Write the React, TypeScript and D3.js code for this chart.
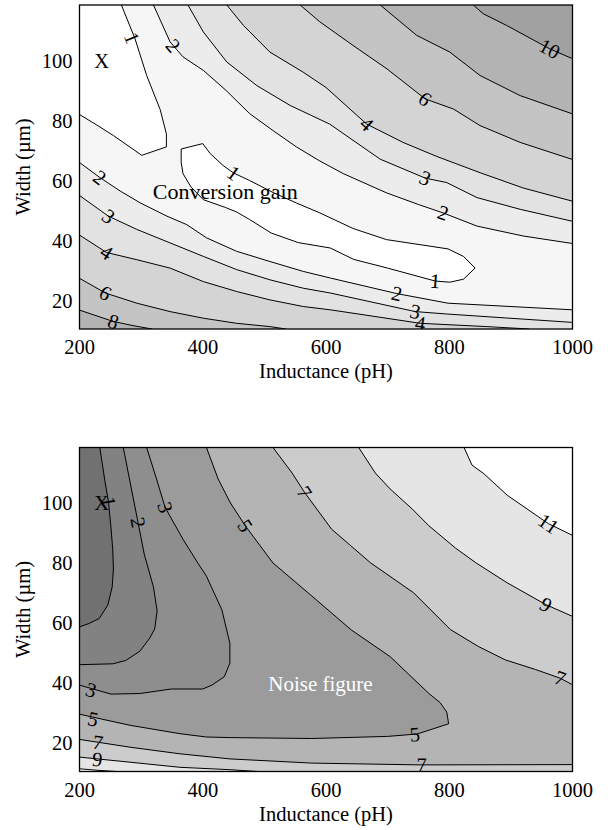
import React from "react";
import * as d3 from "d3";

type Pt = [number, number];

// ---------- axes ----------
const xDomain: Pt = [200, 1000];
const yDomain: Pt = [10.5, 118.5];
const xTicks = [200, 400, 600, 800, 1000];
const yTicks = [20, 40, 60, 80, 100];
const xTitle = "Inductance (pH)";
const yTitle = "Width (µm)";

// ---------- Conversion gain contour lines: [Inductance pH, Width µm] ----------
const cgIslandA: Pt[] = [[268, 118.5], [290, 107.3], [309, 95], [331, 83.6], [341, 75.5], [341, 71.2], [301, 68.4], [255, 75], [228, 78.5], [200, 82]];
const cgIslandB: Pt[] = [[365, 70.5], [400, 72.3], [412, 69], [433, 65], [450, 62.5], [476, 60], [514, 56], [552, 52.5], [590, 49.2], [644, 44], [698, 40.3], [798, 37.2], [823, 34.7], [842, 30.8], [823, 27.1], [801, 26.1], [777, 26.5], [700, 30.8], [645, 33.7], [607, 37.5], [555, 39.3], [511, 42.5], [476, 47], [455, 49.5], [437, 51], [401, 53.6], [381, 57.8], [368, 62.3], [365, 66], [365, 70.5]];
const cgUp2: Pt[] = [[320, 118.5], [347, 106.2], [368, 101.2], [401, 96.7], [438, 90], [476, 82.3], [515, 76.5], [552, 71.2], [590, 66.5], [628, 62.3], [698, 55.9], [750, 52], [790, 49.2], [845, 44.8], [920, 41.5], [1000, 39]];
const cgUp3: Pt[] = [[376, 118.5], [401, 109.5], [439, 99.5], [488, 91.6], [542, 85], [606, 78.8], [688, 67.1], [761, 60.8], [796, 59.3], [845, 54.3], [915, 50.4], [1000, 46.4]];
const cgUp4: Pt[] = [[439, 118.5], [466, 111.7], [509, 102.8], [563, 96.1], [600, 91], [666, 78.8], [725, 72.7], [780, 68], [850, 62.6], [920, 57.5], [1000, 53.1]];
const cgUp6: Pt[] = [[558, 118.5], [590, 112.9], [644, 105], [699, 97.2], [761, 87.2], [807, 83.8], [850, 78.3], [915, 72.7], [1000, 67]];
const cgUp8: Pt[] = [[688, 118.5], [747, 108.4], [801, 102.8], [850, 95], [915, 88.3], [1000, 82.2]];
const cgUp10: Pt[] = [[839, 118.5], [855, 115.6], [893, 111.7], [963, 103.9], [1000, 100.6]];
const cgLo2: Pt[] = [[200, 66], [233, 61], [266, 56.5], [298, 52.6], [342, 48.1], [374, 45.3], [406, 40.9], [455, 36.4], [509, 33], [563, 29.7], [607, 27.5], [715, 22.3], [798, 19.1], [1000, 16.9]];
const cgLo3: Pt[] = [[200, 55], [247, 48.1], [293, 43.7], [347, 39.2], [401, 34.7], [455, 30.3], [509, 26.9], [563, 24.1], [607, 22.5], [745, 16.3], [796, 15.5], [1000, 12.7]];
const cgLo4: Pt[] = [[200, 41.8], [244, 36], [293, 33.6], [347, 30.8], [401, 26.3], [455, 23], [509, 20.2], [563, 18], [607, 16.9], [753, 12.4], [861, 11.3], [930, 10.5]];
const cgLo6: Pt[] = [[200, 27.4], [242, 22.5], [293, 19.1], [347, 16.3], [401, 14.1], [455, 12.4], [509, 11.3], [535, 10.5]];
const cgLo8: Pt[] = [[200, 16.8], [255, 13], [290, 11.5], [318, 10.5]];
// fill colours, highest band first
const cgBandColors = ["#a1a1a1", "#b3b3b3", "#c4c4c4", "#d4d4d4", "#e2e2e2", "#ececec", "#f6f6f6", "#ffffff"];
const cgLabels: { t: string; line: Pt[]; at: Pt }[] = [
  { t: "1", line: cgIslandA, at: [285, 107.5] },
  { t: "2", line: cgUp2, at: [352, 105] },
  { t: "10", line: cgUp10, at: [963, 103.9] },
  { t: "6", line: cgUp6, at: [761, 87.2] },
  { t: "4", line: cgUp4, at: [666, 78.8] },
  { t: "3", line: cgUp3, at: [761, 60.8] },
  { t: "2", line: cgUp2, at: [790, 49.2] },
  { t: "1", line: cgIslandB, at: [450, 62.5] },
  { t: "1", line: cgIslandB, at: [777, 26.5] },
  { t: "2", line: cgLo2, at: [233, 61] },
  { t: "3", line: cgLo3, at: [247, 48.1] },
  { t: "4", line: cgLo4, at: [244, 36] },
  { t: "6", line: cgLo6, at: [242, 22.5] },
  { t: "8", line: cgLo8, at: [255, 13] },
  { t: "2", line: cgLo2, at: [715, 22.3] },
  { t: "3", line: cgLo3, at: [745, 16.3] },
  { t: "4", line: cgLo4, at: [753, 12.4] },
];

// ---------- Noise figure contour lines ----------
const nf1: Pt[] = [[233, 118.5], [241, 107.6], [247, 100.5], [251, 92], [254, 84.4], [255, 78], [253, 72], [246, 66], [232, 61.5], [215, 59.8], [200, 58.7]];
const nf2: Pt[] = [[271, 118.5], [283, 106], [295, 93.5], [305, 83], [320, 72], [326, 64], [322, 58], [314, 55], [298, 50.6], [275, 47.5], [254, 46.4], [200, 46.1]];
const nf3: Pt[] = [[309, 118.5], [325, 108], [339, 98.5], [368, 87.9], [392, 80], [406, 75.6], [431, 64.4], [444, 53.3], [444, 46.6], [435, 42.1], [415, 39.3], [400, 38], [349, 38], [298, 36.5], [251, 36.3], [200, 39.3]];
const nf5: Pt[] = [[406, 118.5], [425, 108], [445, 100], [469, 92.4], [514, 80], [577, 69], [641, 57.7], [704, 48.8], [767, 36.5], [785, 33.5], [796, 30.3], [799, 26.4], [748, 23], [700, 22.2], [577, 21.5], [444, 21.8], [406, 22], [363, 23.1], [282, 25.9], [200, 29.6]];
const nf7Up: Pt[] = [[514, 118.5], [545, 110], [565, 103.6], [609, 91.3], [672, 80.1], [742, 70.1], [802, 57.8], [847, 52.2], [891, 47.7], [940, 44.5], [980, 41.6], [1000, 39.4]];
const nf7Lo: Pt[] = [[200, 21.2], [282, 18.6], [363, 16.4], [444, 14.7], [577, 13.3], [753, 12.7], [1000, 12.8]];
const nf9Up: Pt[] = [[653, 118.5], [680, 110], [704, 104.7], [740, 98], [767, 92.4], [810, 85], [843, 80.1], [894, 73.4], [957, 66.1], [1000, 62.2]];
const nf9Lo: Pt[] = [[200, 15.3], [282, 13.6], [363, 11.9], [444, 11.1], [490, 10.5]];
const nf11Up: Pt[] = [[824, 118.5], [837, 112.6], [856, 109.8], [894, 102.6], [961, 93.1], [1000, 89.2]];
const nf11Lo: Pt[] = [[200, 11.4], [230, 10.9], [260, 10.5]];
// fill colours, highest band first
const nfBandColors = ["#ffffff", "#e5e5e5", "#cccccc", "#b4b4b4", "#9b9b9b", "#8e8e8e", "#828282", "#717171"];
const nfLabels: { t: string; line: Pt[]; at: Pt }[] = [
  { t: "1", line: nf1, at: [247, 100.5] },
  { t: "2", line: nf2, at: [295, 93.5] },
  { t: "3", line: nf3, at: [339, 98.5] },
  { t: "5", line: nf5, at: [469, 92.4] },
  { t: "7", line: nf7Up, at: [565, 103.6] },
  { t: "11", line: nf11Up, at: [961, 93.1] },
  { t: "9", line: nf9Up, at: [957, 66.1] },
  { t: "7", line: nf7Up, at: [980, 41.6] },
  { t: "3", line: nf3, at: [219, 37.7] },
  { t: "5", line: nf5, at: [222, 28] },
  { t: "7", line: nf7Lo, at: [230, 20.2] },
  { t: "9", line: nf9Lo, at: [229, 14.6] },
  { t: "5", line: nf5, at: [744, 22.9] },
  { t: "7", line: nf7Lo, at: [755, 12.7] },
];

const FONT = "'Liberation Serif', 'Times New Roman', serif";

// region below a level bounded by an upper line (top->right edge) and an optional lower line (left->right/bottom edge)
function middle(upper: Pt[], lower: Pt[] | null): Pt[] {
  const [x0, x1] = xDomain;
  const [y0, y1] = yDomain;
  const pts: Pt[] = [...upper];
  if (lower) {
    const end = lower[lower.length - 1];
    if (end[1] <= y0 + 1e-6) pts.push([x1, y0]);
    pts.push(...[...lower].reverse());
  } else {
    pts.push([x1, y0], [x0, y0]);
  }
  pts.push([x0, y1]);
  return pts;
}
// pocket at top-left corner bounded by a line from the top edge to the left edge
function pocketTL(line: Pt[]): Pt[] {
  return [...line, [xDomain[0], yDomain[1]]];
}

type Label = { t: string; line: Pt[]; at: Pt };

function angleAt(line: Pt[], p: Pt, x: (v: number) => number, y: (v: number) => number) {
  const P = [x(p[0]), y(p[1])];
  let best = Infinity;
  let ang = 0;
  for (let i = 0; i < line.length - 1; i++) {
    const ax = x(line[i][0]), ay = y(line[i][1]);
    const bx = x(line[i + 1][0]), by = y(line[i + 1][1]);
    const dx = bx - ax, dy = by - ay;
    const len2 = dx * dx + dy * dy || 1;
    const t = Math.max(0, Math.min(1, ((P[0] - ax) * dx + (P[1] - ay) * dy) / len2));
    const d = Math.hypot(P[0] - (ax + t * dx), P[1] - (ay + t * dy));
    if (d < best) {
      best = d;
      ang = (Math.atan2(dy, dx) * 180) / Math.PI;
    }
  }
  if (ang > 90) ang -= 180;
  if (ang < -90) ang += 180;
  return ang;
}

function Panel(props: {
  id: string;
  top: number;
  bg: string;
  fills: { poly: Pt[]; color: string }[];
  lines: Pt[][];
  labels: Label[];
  note: { text: string; at: Pt; color: string; anchor: string; size: number };
}) {
  const { id, top, bg, fills, lines, labels, note } = props;
  const left = 79.5, right = 572.5, bottom = top + 324;
  const x = d3.scaleLinear().domain(xDomain).range([left, right]);
  const y = d3.scaleLinear().domain(yDomain).range([bottom, top]);
  const line = d3.line<Pt>().x((d) => x(d[0])).y((d) => y(d[1]));
  return (
    <g>
      <defs>
        <clipPath id={id}>
          <rect x={left} y={top} width={right - left} height={bottom - top} />
        </clipPath>
      </defs>
      <g clipPath={`url(#${id})`}>
        <rect x={left} y={top} width={right - left} height={bottom - top} fill={bg} />
        {fills.map((f, i) => (
          <path key={i} d={line(f.poly) + "Z"} fill={f.color} stroke="none" />
        ))}
        {lines.map((l, i) => (
          <path key={i} d={line(l) || ""} fill="none" stroke="#000" strokeWidth={1} />
        ))}
        {labels.map((lb, i) => {
          const a = angleAt(lb.line, lb.at, x, y);
          return (
            <text
              key={i}
              x={x(lb.at[0])}
              y={y(lb.at[1])}
              transform={`rotate(${a} ${x(lb.at[0])} ${y(lb.at[1])})`}
              textAnchor="middle"
              dominantBaseline="central"
              fontFamily={FONT}
              fontSize={20.5}
              fill="#000"
            >
              {lb.t}
            </text>
          );
        })}
        <text x={x(236)} y={y(100)} textAnchor="middle" dominantBaseline="central" fontFamily={FONT} fontSize={20.5} fill="#000">
          X
        </text>
        <text
          x={x(note.at[0])}
          y={y(note.at[1])}
          textAnchor={note.anchor}
          dominantBaseline="central"
          fontFamily={FONT}
          fontSize={note.size}
          fill={note.color}
        >
          {note.text}
        </text>
      </g>
      <rect x={left} y={top} width={right - left} height={bottom - top} fill="none" stroke="#000" strokeWidth={1.3} />
      {xTicks.map((t) => (
        <text key={t} x={x(t)} y={bottom + 25} textAnchor="middle" fontFamily={FONT} fontSize={20.5} fill="#000">
          {t}
        </text>
      ))}
      {yTicks.map((t) => (
        <text key={t} x={left - 7} y={y(t)} textAnchor="end" dominantBaseline="central" fontFamily={FONT} fontSize={20.5} fill="#000">
          {t}
        </text>
      ))}
      <text x={(left + right) / 2} y={bottom + 49} textAnchor="middle" fontFamily={FONT} fontSize={20.5} fill="#000">
        {xTitle}
      </text>
      <text
        x={23}
        y={(top + bottom) / 2}
        transform={`rotate(-90 23 ${(top + bottom) / 2})`}
        textAnchor="middle"
        dominantBaseline="central"
        fontFamily={FONT}
        fontSize={20.5}
        fill="#000"
      >
        {yTitle}
      </text>
    </g>
  );
}

export default function App() {
  const cgFills = [
    { poly: middle(cgUp10, null), color: cgBandColors[1] },
    { poly: middle(cgUp8, cgLo8), color: cgBandColors[2] },
    { poly: middle(cgUp6, cgLo6), color: cgBandColors[3] },
    { poly: middle(cgUp4, cgLo4), color: cgBandColors[4] },
    { poly: middle(cgUp3, cgLo3), color: cgBandColors[5] },
    { poly: middle(cgUp2, cgLo2), color: cgBandColors[6] },
    { poly: pocketTL(cgIslandA), color: cgBandColors[7] },
    { poly: cgIslandB, color: cgBandColors[7] },
  ];
  const cgLines = [cgIslandA, cgIslandB, cgUp2, cgUp3, cgUp4, cgUp6, cgUp8, cgUp10, cgLo2, cgLo3, cgLo4, cgLo6, cgLo8];

  const nfFills = [
    { poly: middle(nf11Up, nf11Lo), color: nfBandColors[1] },
    { poly: middle(nf9Up, nf9Lo), color: nfBandColors[2] },
    { poly: middle(nf7Up, nf7Lo), color: nfBandColors[3] },
    { poly: pocketTL(nf5), color: nfBandColors[4] },
    { poly: pocketTL(nf3), color: nfBandColors[5] },
    { poly: pocketTL(nf2), color: nfBandColors[6] },
    { poly: pocketTL(nf1), color: nfBandColors[7] },
  ];
  const nfLines = [nf1, nf2, nf3, nf5, nf7Up, nf7Lo, nf9Up, nf9Lo, nf11Up, nf11Lo];

  return (
    <svg
      width={612}
      height={830}
      viewBox="0 0 612 830"
      style={{ position: "absolute", left: 0, top: 0, background: "#fff" }}
    >
      <rect x={0} y={0} width={612} height={830} fill="#fff" />
      <Panel
        id="clipTop"
        top={5}
        bg={cgBandColors[0]}
        fills={cgFills}
        lines={cgLines}
        labels={cgLabels}
        note={{ text: "Conversion gain", at: [319, 56.4], color: "#000", anchor: "start", size: 22 }}
      />
      <Panel
        id="clipBottom"
        top={447.5}
        bg={nfBandColors[0]}
        fills={nfFills}
        lines={nfLines}
        labels={nfLabels}
        note={{ text: "Noise figure", at: [591, 39.6], color: "#fff", anchor: "middle", size: 21 }}
      />
    </svg>
  );
}
